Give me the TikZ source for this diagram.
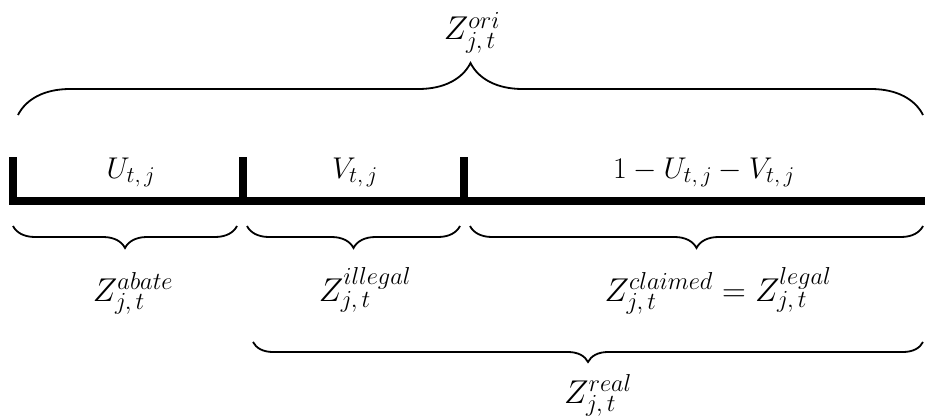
\RequirePackage{fix-cm}
\documentclass[tikz,border=0pt]{standalone}
\usetikzlibrary{decorations.pathreplacing}
\DeclareMathSizes{30}{30}{22.5}{17}
\DeclareMathSizes{33}{33}{24.5}{18}
\begin{document}
\begin{tikzpicture}[x=1pt,y=-1pt,
  bar/.style={line width=8pt},
  tickmark/.style={line width=8pt},
  brc/.style={decorate, decoration={brace, amplitude=#1}, line width=1.8pt},
  brcm/.style={decorate, decoration={brace, mirror, amplitude=#1}, line width=1.8pt},
  lab/.style={font=\fontsize{30}{36}\selectfont, anchor=base, inner sep=0pt},
  zlab/.style={font=\fontsize{33}{40}\selectfont, anchor=base, inner sep=0pt}]
\useasboundingbox (0,0) rectangle (925,417);
% bar and ticks
\coordinate (b0) at (9,201);
\coordinate (b1) at (925,201);
\draw[bar] (b0) -- (b1);
\coordinate (t1a) at (13,157); \coordinate (t1b) at (13,201);
\coordinate (t2a) at (243,157); \coordinate (t2b) at (243,201);
\coordinate (t3a) at (464,157); \coordinate (t3b) at (464,201);
\draw[tickmark] (t1a) -- (t1b);
\draw[tickmark] (t2a) -- (t2b);
\draw[tickmark] (t3a) -- (t3b);
% segment labels
\node[lab] (u) at (131,178) {$U_{t,\,j}$};
\node[lab] (v) at (355,178) {$V_{t,\,j}$};
\node[lab] (w) at (704,178) {$1-U_{t,\,j}-V_{t,\,j}$};
% top brace
\coordinate (topL) at (18,115);
\coordinate (topR) at (923,115);
\draw[brc=52] (topL) -- (topR);
\node[zlab] (zori) at (472,40) {$Z_{j,\,t}^{ori}$};
% lower braces
\coordinate (l1a) at (13,226); \coordinate (l1b) at (237,226);
\coordinate (l2a) at (247,226); \coordinate (l2b) at (460,226);
\coordinate (l3a) at (470,226); \coordinate (l3b) at (923,226);
\draw[brcm=22] (l1a) -- (l1b);
\draw[brcm=22] (l2a) -- (l2b);
\draw[brcm=22] (l3a) -- (l3b);
\node[zlab] (zab) at (133,301) {$Z_{j,\,t}^{abate}$};
\node[zlab] (zil) at (365,301) {$Z_{j,\,t}^{illegal}$};
\node[zlab] (zcl) at (718,301) {$Z_{j,\,t}^{claimed}=Z_{j,\,t}^{legal}$};
% real brace
\coordinate (rA) at (253,342); \coordinate (rB) at (923,342);
\draw[brcm=20] (rA) -- (rB);
\node[zlab] (zre) at (598,403) {$Z_{j,\,t}^{real}$};
\end{tikzpicture}
\end{document}
